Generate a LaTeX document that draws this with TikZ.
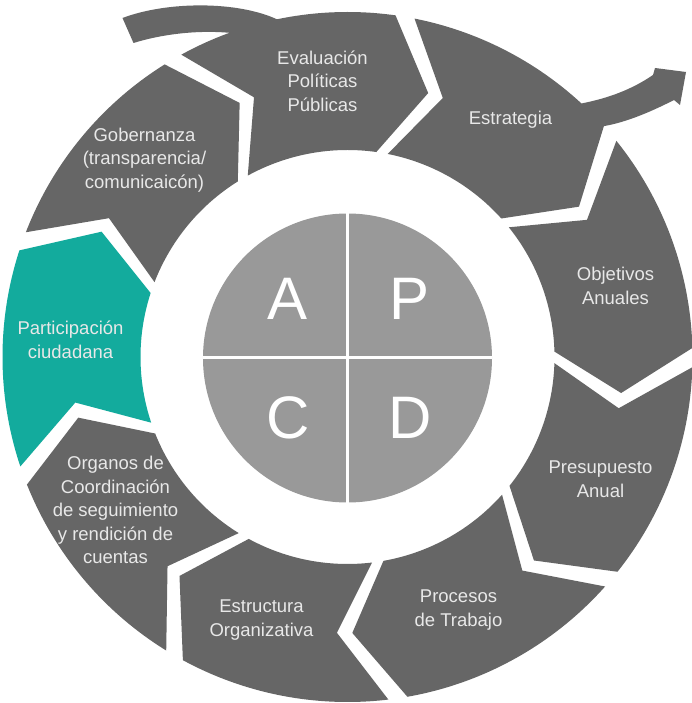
\documentclass[tikz,border=0pt]{standalone}
\usepackage{fontspec}
\setmainfont{Liberation Sans}
\usetikzlibrary{positioning}
\definecolor{segGray}{RGB}{102,102,102}
\definecolor{segTeal}{RGB}{19,171,157}
\definecolor{hubGray}{RGB}{153,153,153}
\definecolor{txtLight}{RGB}{232,232,232}

\begin{document}
\begin{tikzpicture}[x=1pt, y=1pt, seg/.style={fill=segGray},
      lbl/.style={text=txtLight, align=center, inner sep=0pt, font=\fontsize{18.5}{23.5}\selectfont},
      letter/.style={text=white, inner sep=0pt, font=\fontsize{60}{60}\selectfont}]
      \def\rOut{345pt} \def\rIn{207pt} \def\rMid{276pt}
      % Frame
      \fill[white] (-347.5,-346) rectangle (344.5,357);
      \useasboundingbox (-347.5,-346) rectangle (344.5,357);
      % Plain ring segments
      \foreach \s/\e/\c in {42/1.5/segGray, 1.5/-38.5/segGray, -38.5/-80/segGray, -80/-118.5/segGray,
        -118.5/-158.3/segGray, -158.3/-198/segTeal, 162/122/segGray} {
        \pgfmathsetmacro\segStart{\s-3.2}
        \pgfmathsetmacro\segNotch{\s-12.2}
        \pgfmathsetmacro\segTip{\e-9}
        \fill[\c] (\segStart:\rOut) arc[start angle=\segStart, end angle=\e, radius=\rOut]
          -- (\segTip:\rMid) -- (\e:\rIn) arc[start angle=\e, end angle=\segStart, radius=\rIn]
          -- (\segNotch:\rMid) -- cycle;
      }
      % Segment with the tail
      \fill[seg] (-225,339) .. controls (-180,356) and (-110,356) .. (101.8:\rOut)
        arc[start angle=101.8, end angle=82, radius=\rOut] -- (73:\rMid) -- (82:\rIn)
        arc[start angle=82, end angle=118.8, radius=\rIn] -- (109.8:\rMid) -- (118.8:\rOut)
        arc[start angle=118.8, end angle=110, radius=\rOut] .. controls (-150,327) and (-185,323) .. (-214,314) -- cycle;
      % Segment with the arrow head
      \fill[seg] (78.8:\rOut) arc[start angle=78.8, end angle=47.3, radius=\rOut]
        .. controls (262,259) and (285,268) .. (305.5,282) -- (307.5,289) -- (338.5,285) -- (332.5,252)
        -- (326.5,257) .. controls (305,246) and (280,235) .. (42:\rOut) -- (33:\rMid) -- (42:\rIn)
        arc[start angle=42, end angle=78.8, radius=\rIn] -- (69.8:\rMid) -- cycle;
      % Labels
      \node[lbl] (evaluacion) at (-25,276) {Evaluación\\Políticas\\Públicas};
      \node[lbl] (estrategia) at (163,237) {Estrategia};
      \node[lbl] (objetivos) at (268,71) {Objetivos\\Anuales};
      \node[lbl] (presupuesto) at (253,-122) {Presupuesto\\Anual};
      \node[lbl] (procesos) at (111,-253) {Procesos\\de Trabajo};
      \node[lbl] (estructura) at (-86,-263) {Estructura\\Organizativa};
      \node[lbl] (organos) at (-232,-153) {Organos de\\Coordinación\\de seguimiento\\y rendición de\\cuentas};
      \node[lbl] (participacion) at (-277,17) {Participación\\ciudadana};
      \node[lbl] (gobernanza) at (-203,197) {Gobernanza\\(transparencia/\\comunicaicón)};
      % Hub
      \node[circle, fill=hubGray, minimum size=289pt, inner sep=0pt] (hub) at (0,-1) {};
      \draw[white, line width=3pt] (hub.north) -- (hub.south);
      \draw[white, line width=3pt] (hub.west) -- (hub.east);
      \node[letter] (letA) at (-59.5,58) {A};
      \node[letter] (letP) at (62.5,58) {P};
      \node[letter] (letC) at (-59.5,-61) {C};
      \node[letter] (letD) at (62.5,-61) {D};
    \end{tikzpicture}
\end{document}
